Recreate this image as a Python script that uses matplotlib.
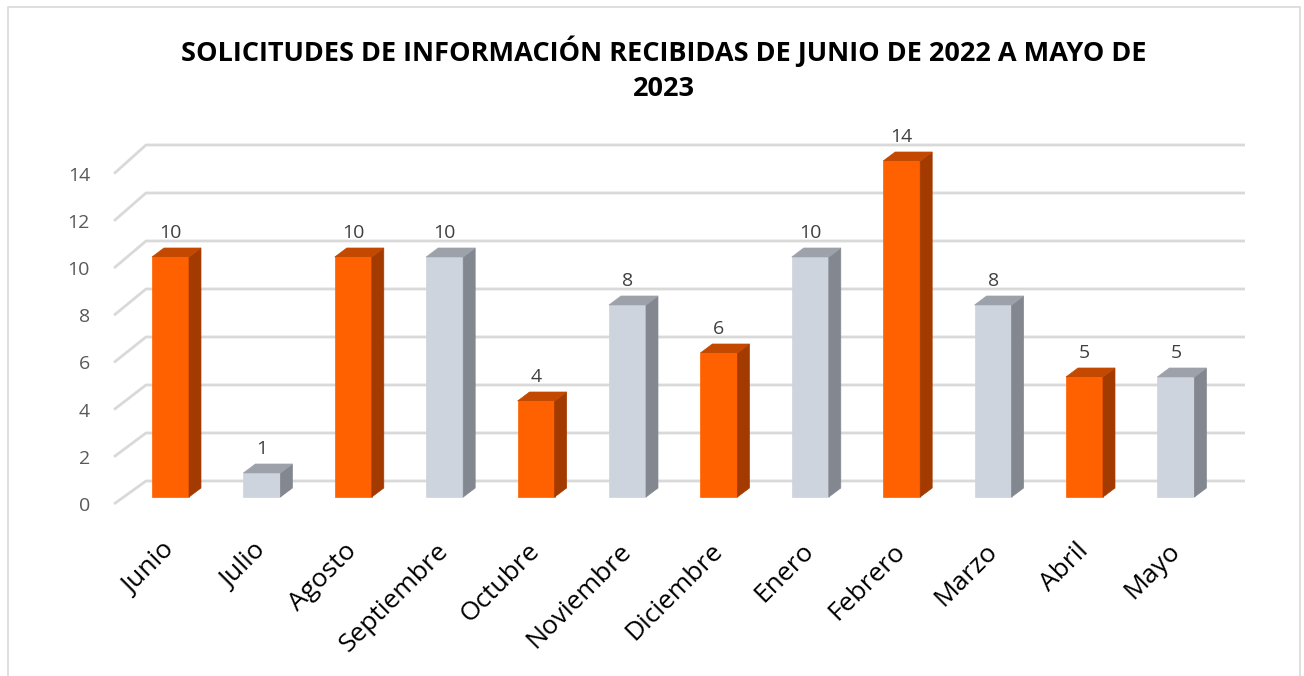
import matplotlib.pyplot as plt
from matplotlib.patches import Polygon, Rectangle

# monthly requests, june 2022 - may 2023
meses = ['Junio', 'Julio', 'Agosto', 'Septiembre', 'Octubre', 'Noviembre',
         'Diciembre', 'Enero', 'Febrero', 'Marzo', 'Abril', 'Mayo']
solicitudes = [10, 1, 10, 10, 4, 8, 6, 10, 14, 8, 5, 5]
y_ticks = [0, 2, 4, 6, 8, 10, 12, 14]
titulo = 'SOLICITUDES DE INFORMACIÓN RECIBIDAS DE JUNIO DE 2022 A MAYO DE\n2023'

# face colours (front, side, top) for the two alternating styles
naranja = ('#FF6100', '#A33B00', '#C44900')
gris = ('#CDD4DE', '#838790', '#9DA2AA')

plt.rcParams['font.family'] = ['Open Sans', 'DejaVu Sans']

W, H = 1304, 676
fig = plt.figure(figsize=(W / 100, H / 100), dpi=100)

# pixel layout: category step 91.4 px, 24 px per unit, baseline at y=497
step, unit, x0, base = 91.4, 24.0, 170.5, 497.0
xlim = (-0.85, 11.9)
ylim = (-1.0, 15.5)
left = x0 + xlim[0] * step
right = x0 + xlim[1] * step
bottom = base - ylim[0] * unit
top = base - ylim[1] * unit
ax = fig.add_axes([left / W, 1 - bottom / H, (right - left) / W, (bottom - top) / H])
ax.set_xlim(*xlim)
ax.set_ylim(*ylim)
for s in ax.spines.values():
    s.set_visible(False)

# depth of the 3d look
dx, dy = 0.131, 0.375
bw = 0.405


def front_y(v):
    # front edge of the floor/wall corner, slightly compressed
    return 0.983 * v - 0.29


def back_y(v):
    return v + 0.667


# gridlines with the slanted corner on the left
for v in y_ticks:
    ax.plot([-0.618, -0.268, 11.756], [front_y(v), back_y(v), back_y(v)],
            color='#D9D9D9', lw=2, zorder=1, solid_capstyle='butt')

xs = list(range(len(meses)))
colores = [naranja if i % 2 == 0 else gris for i in xs]

ax.bar(xs, solicitudes, width=bw, color=[c[0] for c in colores],
       edgecolor=[c[0] for c in colores], lw=0.5, zorder=3)
for x, v, c in zip(xs, solicitudes, colores):
    r = x + bw / 2
    l = x - bw / 2
    side = Polygon([(r, 0), (r + dx, dy), (r + dx, v + dy), (r, v)],
                   closed=True, fc=c[1], ec=c[1], lw=0.5, zorder=3)
    tapa = Polygon([(l, v), (l + dx, v + dy), (r + dx, v + dy), (r, v)],
                   closed=True, fc=c[2], ec=c[2], lw=0.5, zorder=3)
    ax.add_patch(side)
    ax.add_patch(tapa)
    ax.text(x, v + 1.0, str(v), ha='center', va='center', fontsize=14,
            color='#404040', zorder=4)

ax.set_yticks([front_y(v) for v in y_ticks])
ax.set_yticklabels([str(v) for v in y_ticks], fontsize=14, color='#595959')
ax.set_xticks(xs)
ax.set_xticklabels(meses, rotation=45, ha='right', va='center',
                   rotation_mode='anchor', fontsize=19, color='#000000')
ax.tick_params(axis='y', length=0, pad=2)
ax.tick_params(axis='x', length=0, pad=19)

fig.text(664 / W, 1 - 69 / H, titulo, ha='center', va='center',
         fontsize=19.5, fontweight='bold', color='#000000', linespacing=1.45)

# chart frame
fig.add_artist(Rectangle((8 / W, -0.01), (1300 - 8) / W, 1 - 7 / H + 0.01,
                         transform=fig.transFigure, fill=False,
                         ec='#D9D9D9', lw=1.2))

fig.savefig('out.png', dpi=100, facecolor='white')
